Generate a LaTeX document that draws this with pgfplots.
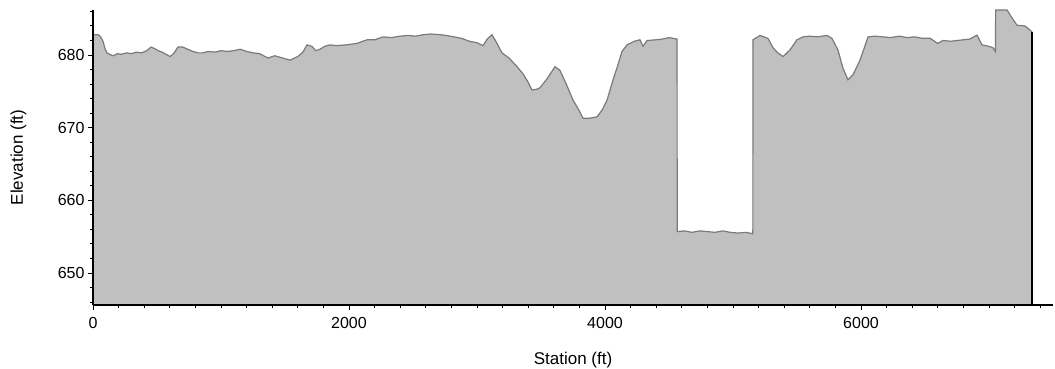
\documentclass[border=0pt]{standalone}
\usepackage{pgfplots}
\pgfplotsset{compat=1.18}
\usepackage{pgfplotstable}
\usepackage{fontspec}
\setmainfont{Liberation Sans}
\definecolor{fillgray}{HTML}{C0C0C0}
\definecolor{linegray}{HTML}{7A7A7A}
\pgfplotstableread{
st el
0 682.8
40 682.8
60 682.5
80 681.8
95 680.8
110 680.3
130 680.1
160 679.9
190 680.2
220 680.1
260 680.3
300 680.2
340 680.4
380 680.3
420 680.6
453 681.1
480 680.9
510 680.6
540 680.4
570 680.1
602 679.8
630 680.2
664 681.1
700 681.1
740 680.8
780 680.5
820 680.3
860 680.3
900 680.5
950 680.4
1000 680.6
1050 680.5
1100 680.6
1150 680.8
1200 680.5
1250 680.3
1300 680.2
1367 679.6
1420 679.9
1480 679.6
1539 679.3
1600 679.8
1640 680.4
1672 681.4
1710 681.2
1740 680.6
1773 680.8
1810 681.2
1852 681.4
1900 681.3
1977 681.4
2060 681.6
2141 682.1
2200 682.1
2266 682.5
2330 682.4
2400 682.6
2460 682.7
2520 682.6
2580 682.8
2640 682.9
2711 682.8
2760 682.7
2820 682.5
2880 682.3
2940 681.9
3000 681.7
3047 681.3
3080 682.2
3117 682.8
3150 681.8
3195 680.3
3250 679.6
3313 678.4
3360 677.4
3398 676.3
3430 675.2
3470 675.3
3492 675.5
3550 676.8
3609 678.4
3648 677.9
3700 675.9
3750 673.8
3800 672.3
3828 671.3
3880 671.3
3938 671.5
3980 672.5
4016 673.8
4063 676.6
4100 678.6
4133 680.5
4172 681.4
4230 681.9
4273 682.1
4297 681.2
4328 682.0
4400 682.1
4450 682.2
4500 682.4
4531 682.3
4563 682.2
4564 655.7
4620 655.8
4680 655.6
4740 655.8
4800 655.7
4860 655.6
4920 655.8
4980 655.6
5040 655.5
5100 655.6
5155 655.4
5156 682.1
5211 682.7
5273 682.3
5313 681.0
5350 680.3
5391 679.8
5445 680.7
5500 682.1
5547 682.5
5600 682.6
5660 682.5
5734 682.7
5773 682.3
5820 680.7
5859 678.2
5898 676.6
5938 677.3
5992 679.3
6016 680.5
6055 682.5
6110 682.6
6172 682.5
6230 682.4
6300 682.6
6360 682.4
6420 682.5
6480 682.3
6540 682.3
6600 681.6
6640 682.0
6700 681.9
6750 682.0
6800 682.1
6850 682.2
6906 682.75
6945 681.4
7000 681.2
7031 681.0
7050 680.5
7052 686.2
7141 686.2
7180 685.1
7219 684.1
7281 684.0
7336 683.2
}\prof
\begin{document}
\begin{tikzpicture}
\useasboundingbox (0,0) rectangle (1055pt,369pt);
\begin{axis}[
  at={(93pt,64pt)}, anchor=south west,
  scale only axis, width=960pt, height=295pt,
  xmin=0, xmax=7500, ymin=645.6, ymax=686.2,
  axis lines=left, axis line style={-, line width=1.3pt},
  axis on top,
  tick align=outside,
  major tick length=5pt, minor tick length=3pt,
  every tick/.style={black, line width=1pt},
  xtick={0,2000,4000,6000},
  minor xtick={200,400,...,7400},
  ytick={650,660,670,680},
  minor ytick={646,648,...,686},
  scaled x ticks=false,
  /pgf/number format/1000 sep={},
  /pgf/number format/assume math mode=true,
  ticklabel style={font=\fontsize{16}{16}\selectfont},
  xticklabel style={yshift=-4pt},
  label style={font=\fontsize{17}{17}\selectfont},
  xlabel={Station (ft)},
  ylabel={Elevation (ft)},
  xlabel style={at={(axis description cs:0.5,0)}, anchor=north, yshift=-44pt},
  ylabel style={at={(axis description cs:0,0.5)}, anchor=south, yshift=63pt},
]
\addplot[fill=fillgray, draw=none] table[x=st, y=el] {\prof} \closedcycle;
\addplot[linegray, line width=1.2pt] table[x=st, y=el] {\prof};
\addplot[black, line width=1.3pt] coordinates {(7336,645.6) (7336,683.2)};
\end{axis}
\end{tikzpicture}
\end{document}
